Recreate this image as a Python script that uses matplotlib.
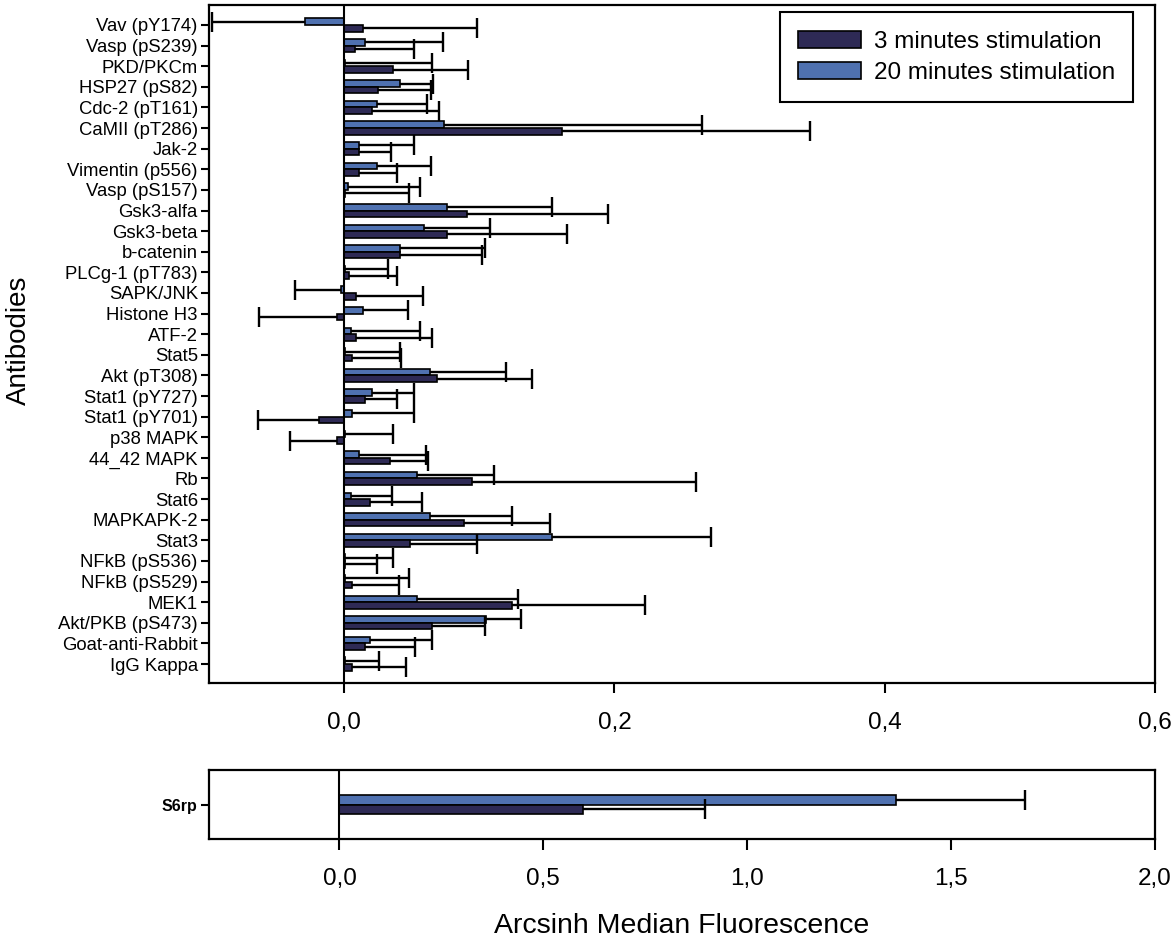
import numpy as np
import matplotlib
matplotlib.use("Agg")
import matplotlib.pyplot as plt
from matplotlib.ticker import FuncFormatter
from matplotlib.patches import Patch

plt.rcParams['font.family'] = ['Liberation Sans', 'DejaVu Sans']

# phospho-flow antibodies, top to bottom
antibodies = [
    'Vav (pY174)', 'Vasp (pS239)', 'PKD/PKCm', 'HSP27 (pS82)', 'Cdc-2 (pT161)',
    'CaMII (pT286)', 'Jak-2', 'Vimentin (p556)', 'Vasp (pS157)', 'Gsk3-alfa',
    'Gsk3-beta', 'b-catenin', 'PLCg-1 (pT783)', 'SAPK/JNK', 'Histone H3',
    'ATF-2', 'Stat5', 'Akt (pT308)', 'Stat1 (pY727)', 'Stat1 (pY701)',
    'p38 MAPK', '44_42 MAPK', 'Rb', 'Stat6', 'MAPKAPK-2', 'Stat3',
    'NFkB (pS536)', 'NFkB (pS529)', 'MEK1', 'Akt/PKB (pS473)',
    'Goat-anti-Rabbit', 'IgG Kappa',
]

# arcsinh median fluorescence change, 3 min stimulation
mean_3min = [
    0.0136, 0.0083, 0.036, 0.0253, 0.0203, 0.1615, 0.0108, 0.0108, 0.001,
    0.091, 0.0758, 0.041, 0.0037, 0.0086, -0.0052, 0.0086, 0.0059, 0.069,
    0.0154, -0.0185, -0.0052, 0.034, 0.0943, 0.0188, 0.089, 0.049, 0.001,
    0.0055, 0.124, 0.065, 0.0154, 0.0055,
]
err_3min = [
    0.085, 0.0435, 0.0555, 0.039, 0.050, 0.1835, 0.0237, 0.0286, 0.047,
    0.104, 0.089, 0.0607, 0.0353, 0.050, 0.0577, 0.0564, 0.0363, 0.070,
    0.0236, 0.0455, 0.0348, 0.0282, 0.1664, 0.0385, 0.0635, 0.0496, 0.0233,
    0.0352, 0.0988, 0.0395, 0.037, 0.0405,
]

# same, 20 min stimulation
mean_20min = [
    -0.0287, 0.0154, 0.001, 0.041, 0.024, 0.074, 0.0108, 0.024, 0.003,
    0.076, 0.059, 0.041, 0.001, -0.0025, 0.0136, 0.0052, 0.001, 0.0638,
    0.0203, 0.0055, 0.001, 0.0108, 0.0536, 0.0052, 0.0632, 0.154, 0.001,
    0.001, 0.0536, 0.105, 0.0188, 0.001,
]
err_20min = [
    0.069, 0.058, 0.064, 0.025, 0.037, 0.191, 0.0407, 0.040, 0.053,
    0.078, 0.0486, 0.0635, 0.0314, 0.034, 0.0334, 0.0508, 0.0406, 0.0558,
    0.0317, 0.0465, 0.035, 0.050, 0.0574, 0.0302, 0.0613, 0.1178, 0.035,
    0.047, 0.0754, 0.026, 0.0459, 0.025,
]

# S6rp responds much stronger, shown on its own scale
s6_label = ['S6rp']
s6_mean_3min = [0.596]
s6_err_3min = [0.30]
s6_mean_20min = [1.364]
s6_err_20min = [0.316]

col_3min = '#2e2a55'
col_20min = '#4f71b0'


def whiskers(ax, ypos, means, errs):
    # error bar only on the side the bar points to, cap at the far end
    means = np.asarray(means)
    errs = np.asarray(errs)
    ends = np.where(means < 0, means - errs, means + errs)
    ax.hlines(ypos, means, ends, color='black', lw=1.7, zorder=3)
    ax.plot(ends, ypos, linestyle='none', marker='|', markersize=15,
            markeredgewidth=1.7, color='black', zorder=3)


def draw_pairs(ax, ypos, m3, e3, m20, e20, h):
    ax.barh(ypos - h / 2, m20, height=h, color=col_20min, edgecolor='black',
            linewidth=1.2, zorder=2)
    ax.barh(ypos + h / 2, m3, height=h, color=col_3min, edgecolor='black',
            linewidth=1.2, zorder=2)
    whiskers(ax, ypos - h / 2, m20, e20)
    whiskers(ax, ypos + h / 2, m3, e3)
    ax.axvline(0, color='black', lw=1.5, zorder=4)
    for sp in ax.spines.values():
        sp.set_linewidth(1.6)


comma = FuncFormatter(lambda v, p: f'{v:.1f}'.replace('.', ','))

fig = plt.figure(figsize=(11.76, 9.44), dpi=100)
ax = fig.add_axes([0.1777, 0.2765, 0.8045, 0.7182])
ax2 = fig.add_axes([0.1777, 0.1112, 0.8045, 0.0731])

y = np.arange(len(antibodies))
draw_pairs(ax, y, mean_3min, err_3min, mean_20min, err_20min, 0.32)
ax.set_xlim(-0.1, 0.6)
ax.set_ylim(len(antibodies) - 0.08, -0.97)
ax.set_yticks(y)
ax.set_yticklabels(antibodies, fontsize=13.3)
ax.set_xticks([0.0, 0.2, 0.4, 0.6])
ax.xaxis.set_major_formatter(comma)
ax.tick_params(axis='y', length=6, width=1.5, pad=2.0)
ax.tick_params(axis='x', length=7, width=1.5, pad=14, labelsize=17.5)

leg = ax.legend(handles=[Patch(facecolor=col_3min, edgecolor='black', lw=1.2),
                         Patch(facecolor=col_20min, edgecolor='black', lw=1.2)],
                labels=['3 minutes stimulation', '20 minutes stimulation'],
                loc='upper right', bbox_to_anchor=(0.9895, 1.007), fontsize=17.5,
                fancybox=False, framealpha=1, edgecolor='black',
                handlelength=2.6, handleheight=0.7, handletextpad=0.5,
                labelspacing=0.38, borderpad=0.75)
leg.get_frame().set_linewidth(1.5)

y2 = np.arange(len(s6_label))
draw_pairs(ax2, y2, s6_mean_3min, s6_err_3min, s6_mean_20min, s6_err_20min, 0.14)
ax2.set_xlim(-0.32, 2.0)
ax2.set_ylim(0.5, -0.5)
ax2.set_yticks(y2)
ax2.set_yticklabels(s6_label, fontsize=11.5, fontweight='bold',
                    family=['Liberation Sans Narrow', 'Liberation Sans'])
ax2.set_xticks([0.0, 0.5, 1.0, 1.5, 2.0])
ax2.xaxis.set_major_formatter(comma)
ax2.tick_params(axis='y', length=6, width=1.5, pad=2.5)
ax2.tick_params(axis='x', length=8, width=1.5, pad=13, labelsize=17.5)

fig.text(0.0165, 0.64, 'Antibodies', rotation=90, fontsize=20,
         ha='center', va='center')
fig.text(0.58, 0.0117, 'Arcsinh Median Fluorescence', fontsize=20.5,
         ha='center', va='baseline')

fig.savefig('out.png', dpi=100)
